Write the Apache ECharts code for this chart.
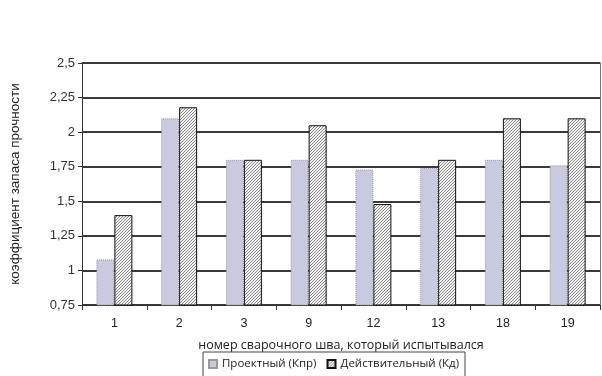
<!DOCTYPE html>
<html><head><meta charset="utf-8">
<script src="https://cdn.jsdelivr.net/npm/echarts@6/dist/echarts.min.js"></script>
<style>html,body{margin:0;padding:0;background:#fff}#c{width:602px;height:376px}</style>
</head><body><div id="c"></div>
<script>
const categories = ['1','2','3','9','12','13','18','19'];
const projected = [1.08, 2.10, 1.80, 1.80, 1.73, 1.74, 1.80, 1.76];
const actual = [1.40, 2.18, 1.80, 2.05, 1.48, 1.80, 2.10, 2.10];
const seriesNames = ['Проектный (Кпр)', 'Действительный (Кд)'];

function hatch() {
  const c = document.createElement('canvas');
  c.width = 3; c.height = 3;
  const g = c.getContext('2d');
  g.fillStyle = '#f2f2f2'; g.fillRect(0,0,3,3);
  g.fillStyle = '#8a8a8a';
  g.fillRect(2,0,1,1); g.fillRect(1,1,1,1); g.fillRect(0,2,1,1);
  return c;
}
const hatchFill = {image: hatch(), repeat: 'repeat'};
const font = 'Liberation Sans, Arial, sans-serif';
const font2 = 'Open Sans, Liberation Sans, sans-serif';
const chart = echarts.init(document.getElementById('c'));
chart.setOption({
  animation: false,
  textStyle: {fontFamily: font},
  grid: {left: 81, right: 2, top: 63, bottom: 71},
  legend: {
    data: seriesNames, left: 203, top: 352, itemWidth: 8, itemHeight: 8, itemGap: 10,
    icon: 'rect',
    borderColor: '#444', borderWidth: 1, padding: [6, 6, 12, 5],
    textStyle: {fontSize: 11.5, color: '#222', fontFamily: font2}
  },
  xAxis: {
    type: 'category', data: categories,
    name: 'номер сварочного шва, который испытывался', nameLocation: 'middle', nameGap: 34,
    nameTextStyle: {fontSize: 12.5, color: '#222', fontFamily: font2},
    axisLine: {lineStyle: {color: '#333', width: 1}},
    axisTick: {show: true, length: 5, lineStyle: {color: '#333'}},
    axisLabel: {fontSize: 12.5, color: '#222', margin: 12}
  },
  yAxis: [{
    type: 'value', min: 0.75, max: 2.5, interval: 0.25,
    name: 'коэффициент запаса прочности', nameLocation: 'middle', nameGap: 60, nameRotate: 90,
    nameTextStyle: {fontSize: 13.5, color: '#222'},
    axisLine: {show: true, lineStyle: {color: '#333', width: 1}},
    axisTick: {show: true, length: 4, inside: false, lineStyle: {color: '#333'}},
    axisLabel: {fontSize: 13, color: '#333', margin: 7, formatter: v => String(+v.toFixed(2)).replace('.', ',')},
    splitLine: {show: true, lineStyle: {color: '#3a3a3a', width: 2, opacity: 1}}
  }, {
    type: 'value', position: 'right', min: 0.75, max: 2.5, interval: 0.25,
    axisLine: {show: true, lineStyle: {color: '#777', width: 1}},
    axisTick: {show: false}, axisLabel: {show: false}, splitLine: {show: false}
  }],
  series: [
    {name: seriesNames[0], type: 'bar', data: projected, barWidth: 18, barGap: '0%', z: 3,
     itemStyle: {color: '#c9c9e0', borderColor: '#999', borderWidth: 1, borderType: 'dotted'}},
    {name: seriesNames[1], type: 'bar', data: actual, barWidth: 18, z: 3,
     itemStyle: {color: hatchFill, borderColor: '#111', borderWidth: 1}}
  ]
});
</script></body></html>
